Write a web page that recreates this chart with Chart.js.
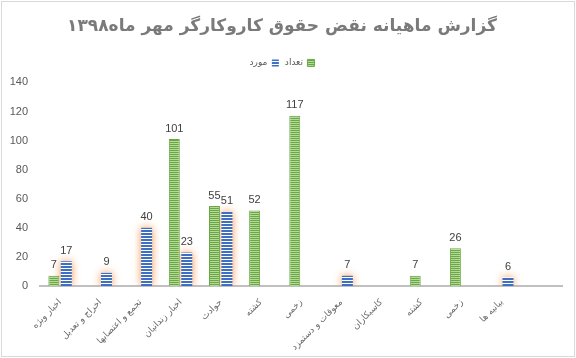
<!DOCTYPE html>
<html>
<head>
<meta charset="utf-8">
<script src="https://cdn.jsdelivr.net/npm/chart.js@4"></script>
<style>
  html, body { margin: 0; padding: 0; background: #fff; }
  #wrap { position: absolute; left: 1px; top: 1px; width: 572px; height: 354px; border: 1px solid #d9d9d9; }
  canvas { display: block; }
</style>
</head>
<body>
<div id="wrap"><canvas id="c" width="572" height="354"></canvas></div>
<script>
const titleText = 'گزارش ماهیانه نقض حقوق کاروکارگر مهر ماه۱۳۹۸';
const categories = ['اخبار ویژه', 'اخراج و تعدیل', 'تجمع و اعتصابها', 'اخبار زندانیان', 'حوادث', 'کشته', 'زخمی',
  'معوقات و دستمزد', 'کاسبکاران', 'کشته', 'زخمی', 'بیانیه ها', ''];
const countValues = [7, null, null, 101, 55, 52, 117, null, null, 7, 26, null, null];   // تعداد
const caseValues = [17, 9, 40, 23, 51, null, null, 7, null, null, null, 6, null];       // مورد
const yTicks = [0, 20, 40, 60, 80, 100, 120, 140];

function stripes(colors) {
  const c = document.createElement('canvas');
  c.width = 4; c.height = colors.length;
  const x = c.getContext('2d');
  colors.forEach((col, i) => { x.fillStyle = col; x.fillRect(0, i, 4, 1); });
  return x.createPattern(c, 'repeat');
}
const ctx = document.getElementById('c').getContext('2d');
const greenFill = stripes(['#6aa842', '#b5d99c']);
const blueFill = stripes(['#3f6fc2', '#3f6fc2', '#ffffff']);

// orange glow around the blue bars
const glowPlugin = {
  id: 'glow',
  beforeDatasetDraw(chart, args) {
    if (args.index === 1) {
      chart.ctx.save();
      chart.ctx.shadowColor = 'rgba(244,150,80,1)';
      chart.ctx.shadowBlur = 8;
    }
  },
  afterDatasetDraw(chart, args) {
    if (args.index === 1) chart.ctx.restore();
  }
};

// extra room under the legend
const legendGap = {
  id: 'legendGap',
  afterInit(chart) {
    const lg = chart.legend;
    if (!lg) return;
    const fit = lg.fit;
    lg.fit = function () { fit.call(this); this.height += 5; };
  }
};

// value labels on top of the bars
const valuePlugin = {
  id: 'values',
  afterDatasetsDraw(chart) {
    const c = chart.ctx;
    c.save();
    c.font = '11px "Liberation Sans", Arial, sans-serif';
    c.fillStyle = '#404040';
    c.textAlign = 'center';
    c.textBaseline = 'bottom';
    chart.data.datasets.forEach((ds, i) => {
      chart.getDatasetMeta(i).data.forEach((bar, j) => {
        const v = ds.data[j];
        if (v == null) return;
        c.fillText(String(v), bar.x, bar.y - 5);
      });
    });
    c.restore();
  }
};

new Chart(ctx, {
  type: 'bar',
  data: {
    labels: categories,
    datasets: [
      {
        label: 'تعداد',
        data: countValues,
        backgroundColor: greenFill,
        borderColor: '#6aa842',
        borderWidth: 1,
        categoryPercentage: 0.62,
        barPercentage: 0.88
      },
      {
        label: 'مورد',
        data: caseValues,
        backgroundColor: blueFill,
        borderColor: '#3f6fc2',
        borderWidth: 0,
        categoryPercentage: 0.62,
        barPercentage: 0.88
      }
    ]
  },
  options: {
    responsive: false,
    animation: false,
    layout: { padding: { left: 0, right: 12, top: 10, bottom: 0 } },
    plugins: {
      title: {
        display: true,
        text: titleText,
        color: '#7a7a7a',
        font: { family: 'DejaVu Sans', size: 17, weight: 'bold' },
        padding: { top: 4, bottom: 16 }
      },
      legend: {
        rtl: true,
        labels: {
          boxWidth: 7, boxHeight: 7, color: '#595959',
          font: { family: 'DejaVu Sans', size: 9 },
          padding: 6
        }
      },
      tooltip: { enabled: false }
    },
    scales: {
      x: {
        grid: { display: false },
        border: { display: true, color: '#c0c0c0', width: 2 },
        ticks: {
          color: '#6b6b6b', minRotation: 45, maxRotation: 45, autoSkip: false,
          font: { family: 'DejaVu Sans', size: 9 }
        },
        afterFit(scale) { scale.height = 70; }
      },
      y: {
        min: 0, max: 140,
        grid: { display: false },
        border: { display: false },
        afterBuildTicks(scale) { scale.ticks = yTicks.map(v => ({ value: v })); },
        afterFit(scale) { scale.width = 38; },
        ticks: {
          color: '#595959', padding: 4,
          font: { family: '"Liberation Sans", Arial, sans-serif', size: 11 }
        }
      }
    }
  },
  plugins: [glowPlugin, legendGap, valuePlugin]
});
</script>
</body>
</html>
